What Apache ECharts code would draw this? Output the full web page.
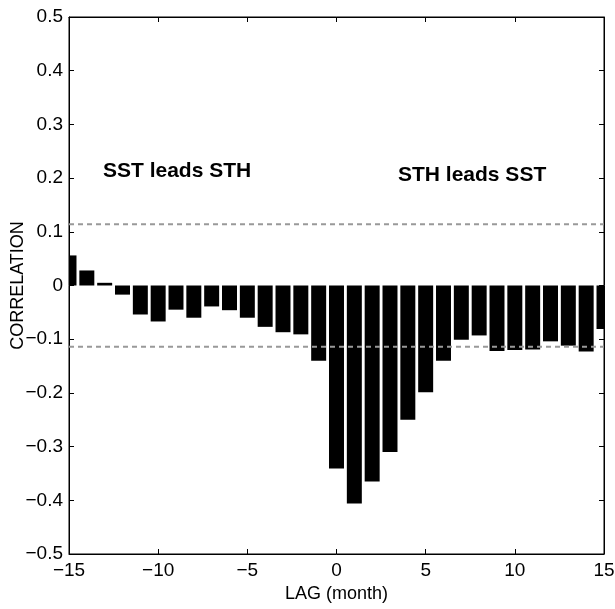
<!DOCTYPE html>
<html>
<head>
<meta charset="utf-8">
<script src="https://cdn.jsdelivr.net/npm/echarts@6/dist/echarts.min.js"></script>
<style>
html, body { margin: 0; padding: 0; background: #fff; }
#chart { width: 615px; height: 609px; }
</style>
</head>
<body>
<div id="chart"></div>
<script>
// lag in months, -15 .. 15
var lags = [-15, -14, -13, -12, -11, -10, -9, -8, -7, -6, -5, -4, -3, -2, -1,
            0, 1, 2, 3, 4, 5, 6, 7, 8, 9, 10, 11, 12, 13, 14, 15];
var corr = [0.056, 0.028, 0.005, -0.017, -0.054, -0.067, -0.045, -0.060, -0.039, -0.046,
            -0.060, -0.077, -0.087, -0.091, -0.140,
            -0.341, -0.406, -0.365, -0.310, -0.250, -0.199, -0.140, -0.101, -0.093,
            -0.122, -0.120, -0.119, -0.104, -0.112, -0.123, -0.081];
var sigLevel = 0.114;
var xRange = [-15, 15];

var font = 'Liberation Sans, Arial, sans-serif';

var barData = lags.map(function (l, i) { return [l, corr[i]]; });
var upper = xRange.map(function (x) { return [x, sigLevel]; });
var lower = xRange.map(function (x) { return [x, -sigLevel]; });

var chart = echarts.init(document.getElementById('chart'), null, {renderer: 'canvas'});

var tickStyle = {show: true, inside: true, length: 5, lineStyle: {color: '#000', width: 1}};
var lineStyle = {show: true, onZero: false, lineStyle: {color: '#000', width: 1}};

// bars drawn through the axes, clipped to the plot box like matlab does
function renderBar(params, api) {
  var x = api.value(0), y = api.value(1);
  var p0 = api.coord([x, 0]);
  var p1 = api.coord([x, y]);
  var w = api.size([1, 0])[0] * 0.84;
  var cs = params.coordSys;
  var rect = echarts.graphic.clipRectByRect(
    {x: p0[0] - w / 2, y: Math.min(p0[1], p1[1]), width: w, height: Math.max(Math.abs(p1[1] - p0[1]), 1)},
    {x: cs.x, y: cs.y, width: cs.width, height: cs.height});
  return rect && {type: 'rect', shape: rect, style: {fill: '#000'}};
}

chart.setOption({
  animation: false,
  backgroundColor: '#fff',
  grid: {left: 69, right: 11, top: 17, bottom: 55, containLabel: false, outerBoundsMode: 'none',
         show: true, borderColor: '#000', borderWidth: 1},
  xAxis: [
    {
      type: 'value', min: -15, max: 15, interval: 5,
      name: 'LAG (month)', nameLocation: 'middle', nameGap: 31, nameMoveOverlap: false,
      nameTextStyle: {fontFamily: font, fontSize: 18, color: '#000'},
      axisLine: lineStyle,
      axisTick: tickStyle,
      splitLine: {show: false},
      axisLabel: {fontFamily: font, fontSize: 19, color: '#000', margin: 7,
        formatter: function (v) { return v < 0 ? '\u2212' + Math.abs(v) : String(v); }}
    },
    {
      type: 'value', position: 'top', min: -15, max: 15, interval: 5,
      axisLine: lineStyle,
      axisTick: tickStyle, axisLabel: {show: false}, splitLine: {show: false}
    }
  ],
  yAxis: [
    {
      type: 'value', min: -0.5, max: 0.5, interval: 0.1,
      name: 'CORRELATION', nameLocation: 'middle', nameGap: 42, nameRotate: 90, nameMoveOverlap: false,
      nameTextStyle: {fontFamily: font, fontSize: 18, color: '#000'},
      axisLine: lineStyle,
      axisTick: tickStyle,
      splitLine: {show: false},
      axisLabel: {fontFamily: font, fontSize: 19, color: '#000', margin: 6,
        formatter: function (v) {
          var s = Math.abs(v) < 1e-9 ? '0' : Math.abs(v).toFixed(1);
          return v < -1e-9 ? '\u2212' + s : s;
        }}
    },
    {
      type: 'value', position: 'right', min: -0.5, max: 0.5, interval: 0.1,
      axisLine: lineStyle,
      axisTick: tickStyle, axisLabel: {show: false}, splitLine: {show: false}
    }
  ],
  series: [
    {
      type: 'custom', data: barData, encode: {x: 0, y: 1},
      renderItem: renderBar
    },
    {
      type: 'line', data: upper, symbol: 'none',
      lineStyle: {color: '#999', width: 2, type: [5, 4]}
    },
    {
      type: 'line', data: lower, symbol: 'none',
      lineStyle: {color: '#999', width: 2, type: [5, 4]}
    }
  ],
  graphic: [
    {type: 'text', left: 103, top: 161,
     style: {text: 'SST leads STH', font: 'bold 21px ' + font, fill: '#000'}},
    {type: 'text', left: 398, top: 165,
     style: {text: 'STH leads SST', font: 'bold 21px ' + font, fill: '#000'}}
  ]
});
</script>
</body>
</html>
